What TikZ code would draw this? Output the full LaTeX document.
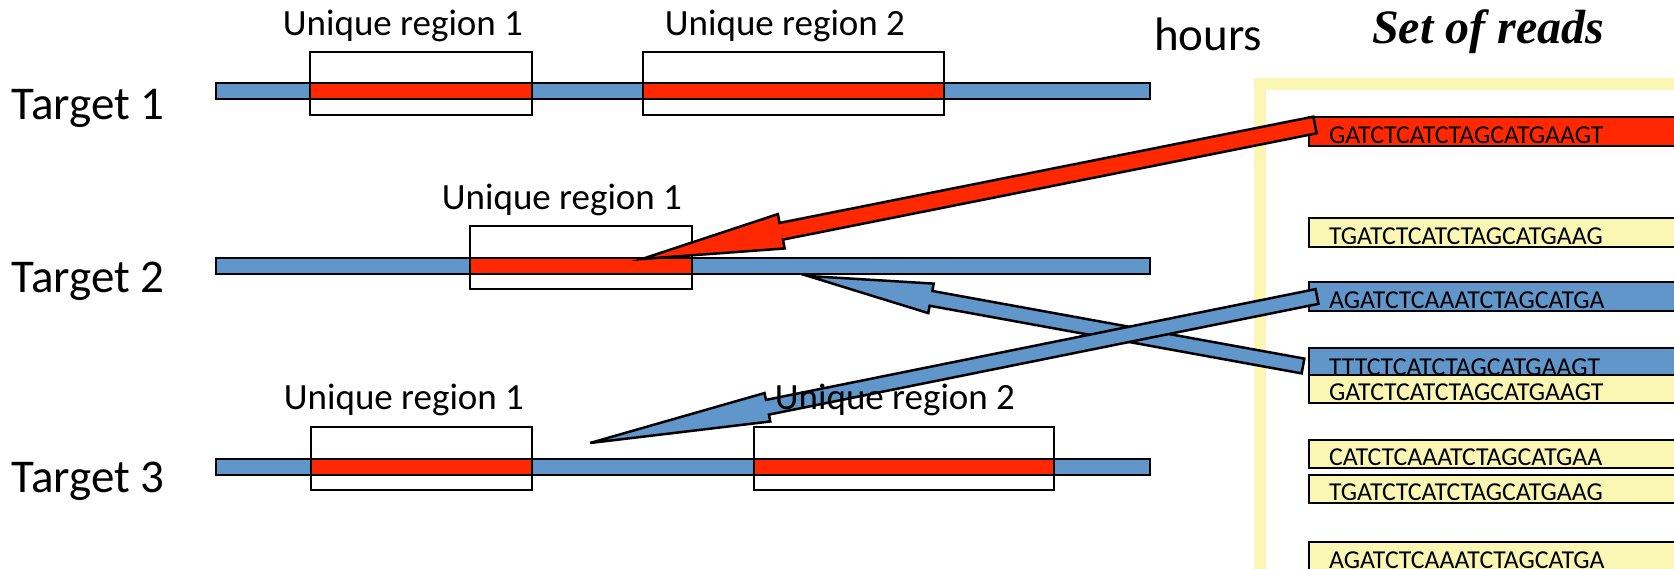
\documentclass[tikz,border=0pt]{standalone}
\usepackage{fontspec}
\setmainfont{Carlito}
\newfontfamily\timesfont{Liberation Serif}
\usetikzlibrary{calc}
\definecolor{tblue}{RGB}{97,150,203}
\definecolor{tred}{RGB}{255,40,0}
\definecolor{tyellow}{RGB}{250,247,180}
\newcommand\blockarrow[7]{% #1 name, #2 fill, #3 tail, #4 tip, #5 shaft half, #6 head half, #7 head length
  \coordinate (#1-neck) at ($(#4)!#7!(#3)$);
  \draw[blockline, fill=#2]
    ($(#3)!#5!90:(#4)$) -- ($(#1-neck)!#5!90:(#4)$) -- ($(#1-neck)!#6!90:(#4)$) -- (#4)
    -- ($(#1-neck)!#6!-90:(#4)$) -- ($(#1-neck)!#5!-90:(#4)$) -- ($(#3)!#5!-90:(#4)$) -- cycle;
}
\begin{document}
\begin{tikzpicture}[x=1pt,y=-1pt,
  every node/.style={inner sep=0pt, outer sep=0pt},
  barbox/.style={draw=black, line width=2.5pt, rectangle, anchor=north west},
  tbar/.style={barbox, fill=tblue, minimum width=934pt, minimum height=16pt},
  redreg/.style={barbox, fill=tred, minimum height=16pt},
  regbox/.style={barbox, minimum height=63pt},
  readbar/.style={barbox, minimum width=440pt},
  readtext/.style={anchor=base west, font=\fontsize{25.8}{30}\selectfont},
  biglabel/.style={anchor=base west, font=\fontsize{47}{56}\selectfont},
  reglabel/.style={anchor=base, font=\fontsize{37}{44}\selectfont},
  blockline/.style={draw=black, line width=2.5pt, line join=miter}]
\useasboundingbox (0,0) rectangle (1674,568);
\clip (0,0) rectangle (1674,568);

% frame of the set of reads
\draw[tyellow, line width=12pt] (1260,83.5) rectangle (1760,660);

% reads
\node[readbar, fill=tred, minimum height=29pt] (r1) at (1309,117) {};
\node[readbar, fill=tyellow, minimum height=29pt] (r2) at (1309,218) {};
\node[readbar, fill=tblue, minimum height=29pt] (r3) at (1309,282) {};
\node[readbar, fill=tblue, minimum height=27pt] (r4) at (1309,348) {};
\node[readbar, fill=tyellow, minimum height=28pt] (r5) at (1309,375) {};
\node[readbar, fill=tyellow, minimum height=28pt] (r6) at (1309,440) {};
\node[readbar, fill=tyellow, minimum height=28pt] (r7) at (1309,475) {};
\node[readbar, fill=tyellow, minimum height=29pt] (r8) at (1309,542) {};
\node[readtext] (s1) at ($(r1.south west)+(20,-2.5)$) {GATCTCATCTAGCATGAAGT};
\node[readtext] (s2) at ($(r2.south west)+(20,-2.5)$) {TGATCTCATCTAGCATGAAG};
\node[readtext] (s3) at ($(r3.south west)+(20,-2.5)$) {AGATCTCAAATCTAGCATGA};
\node[readtext] (s4) at ($(r4.south west)+(20,0)$) {TTTCTCATCTAGCATGAAGT};
\node[readtext] (s5) at ($(r5.south west)+(20,-2.5)$) {GATCTCATCTAGCATGAAGT};
\node[readtext] (s6) at ($(r6.south west)+(20,-2.5)$) {CATCTCAAATCTAGCATGAA};
\node[readtext] (s7) at ($(r7.south west)+(20,-2.5)$) {TGATCTCATCTAGCATGAAG};
\node[readtext] (s8) at ($(r8.south west)+(20,-2.5)$) {AGATCTCAAATCTAGCATGA};

% targets
\node[tbar] (t1) at (216,83) {};
\node[tbar] (t2) at (216,258) {};
\node[tbar] (t3) at (216,459) {};
\node[redreg, minimum width=222pt] (t1r1) at (310,83) {};
\node[redreg, minimum width=301pt] (t1r2) at (643,83) {};
\node[redreg, minimum width=222pt] (t2r1) at (470,258) {};
\node[redreg, minimum width=221pt] (t3r1) at (311,459) {};
\node[redreg, minimum width=300pt] (t3r2) at (754,459) {};
\node[regbox, minimum width=222pt] (t1b1) at (310,52) {};
\node[regbox, minimum width=301pt] (t1b2) at (643,52) {};
\node[regbox, minimum width=222pt] (t2b1) at (470,226) {};
\node[regbox, minimum width=221pt] (t3b1) at (311,427) {};
\node[regbox, minimum width=300pt] (t3b2) at (754,427) {};

% arrows
\coordinate (redtail) at ($(r1.west)+(6,-6.5)$);
\coordinate (redtip) at (642,259);
\coordinate (b1tail) at ($(r4.west)+(-6,4.5)$);
\coordinate (b1tip) at (808,276);
\coordinate (b2tail) at ($(r3.west)+(8,0)$);
\coordinate (b2tip) at (590,443);
\blockarrow{ra}{tred}{redtail}{redtip}{8.5pt}{17.5pt}{142pt}
\blockarrow{ba}{tblue}{b1tail}{b1tip}{7.5pt}{15pt}{125pt}
\blockarrow{bb}{tblue}{b2tail}{b2tip}{7.5pt}{14.5pt}{181pt}

% labels
\node[biglabel] (lt1) at (12,119) {Target 1};
\node[biglabel] (lt2) at (12,292) {Target 2};
\node[biglabel] (lt3) at (12,492) {Target 3};
\node[reglabel] (u11) at (403,35) {Unique region 1};
\node[reglabel] (u12) at (785,35) {Unique region 2};
\node[reglabel] (u21) at (562,209) {Unique region 1};
\node[reglabel] (u31) at (404,409) {Unique region 1};
\node[reglabel] (u32) at (895,409) {Unique region 2};
\node[anchor=base west, font=\fontsize{47}{56}\selectfont] (hrs) at (1154,50) {hours};
\node[anchor=base west, font=\timesfont\bfseries\itshape\fontsize{48}{58}\selectfont] (sor) at (1372,43) {Set of reads};
\end{tikzpicture}
\end{document}
